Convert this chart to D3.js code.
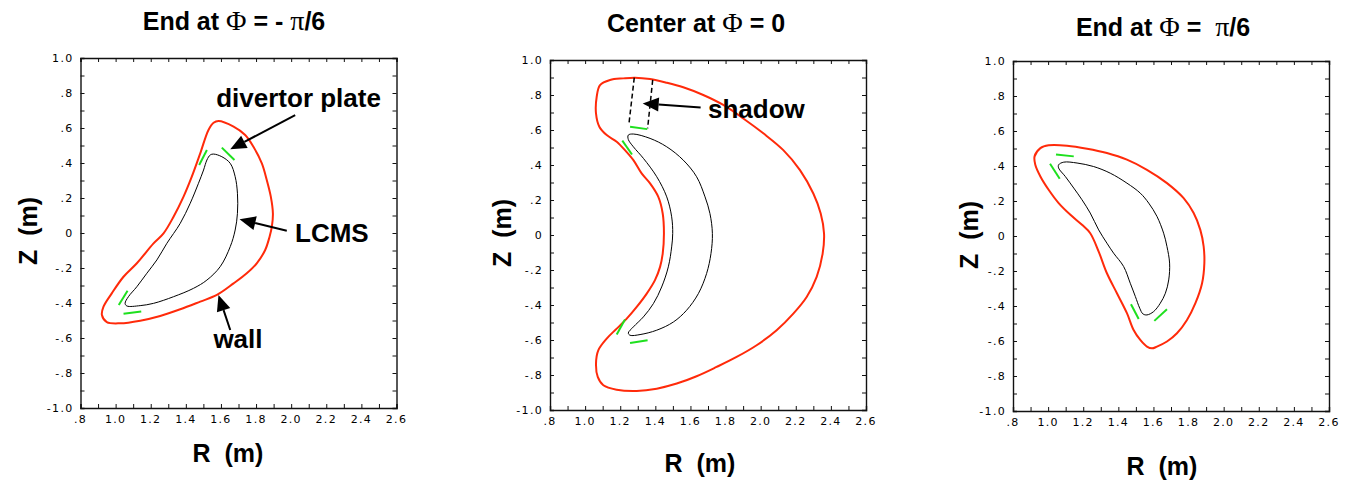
<!DOCTYPE html>
<html>
<head>
<meta charset="utf-8">
<script src="https://cdn.jsdelivr.net/npm/d3@7"></script>
<style>
  body { margin: 0; background: #fff; }
  svg { display: block; }
  .tick-label { font-family: "DejaVu Sans", sans-serif; font-size: 11px; letter-spacing: 1.3px; fill: #000; }
  .title, .axis-label, .note { font-family: "Liberation Sans", Arial, sans-serif; font-weight: bold; fill: #000; }
  .greek { font-family: "Liberation Serif", "Times New Roman", serif; font-weight: normal; }
</style>
</head>
<body>
<div id="chart"></div>
<script>
const W = 1351, H = 482;
const pw = 316, ph = 350;

const xTicks = [0.8, 1.0, 1.2, 1.4, 1.6, 1.8, 2.0, 2.2, 2.4, 2.6];
const xTickLabels = [".8", "1.0", "1.2", "1.4", "1.6", "1.8", "2.0", "2.2", "2.4", "2.6"];
const yTicks = [1.0, 0.8, 0.6, 0.4, 0.2, 0, -0.2, -0.4, -0.6, -0.8, -1.0];
const yTickLabels = ["1.0", ".8", ".6", ".4", ".2", "0", "-.2", "-.4", "-.6", "-.8", "-1.0"];

// wall (red) and LCMS (black) contours, [R, Z] in metres
const wall1 = [[1.586,0.640],[1.672,0.608],[1.738,0.560],[1.785,0.493],[1.833,0.398],[1.861,0.303],[1.884,0.208],[1.896,0.112],[1.890,0.036],[1.877,-0.021],[1.852,-0.097],[1.804,-0.173],[1.747,-0.230],[1.672,-0.288],[1.577,-0.354],[1.482,-0.392],[1.368,-0.436],[1.254,-0.474],[1.140,-0.501],[1.026,-0.516],[0.950,-0.509],[0.922,-0.469],[0.931,-0.421],[0.978,-0.345],[1.045,-0.250],[1.121,-0.173],[1.216,-0.059],[1.273,-0.002],[1.330,0.093],[1.387,0.208],[1.434,0.322],[1.482,0.455],[1.529,0.589],[1.558,0.630]];
const lcms1 = [[1.558,0.451],[1.605,0.436],[1.653,0.398],[1.681,0.322],[1.694,0.227],[1.694,0.112],[1.681,0.017],[1.653,-0.078],[1.596,-0.192],[1.520,-0.269],[1.444,-0.316],[1.330,-0.364],[1.216,-0.402],[1.140,-0.415],[1.064,-0.417],[1.054,-0.402],[1.073,-0.364],[1.121,-0.307],[1.178,-0.230],[1.235,-0.154],[1.292,-0.059],[1.368,0.055],[1.425,0.170],[1.472,0.284],[1.501,0.360],[1.520,0.417],[1.539,0.446]];
const plates1 = [[[1.476,0.389],[1.520,0.474]],[[1.605,0.488],[1.677,0.417]],[[1.018,-0.411],[1.068,-0.330]],[[1.045,-0.461],[1.146,-0.448]]];

const wall2 = [[1.085,0.857],[1.142,0.886],[1.218,0.895],[1.284,0.899],[1.370,0.891],[1.465,0.870],[1.559,0.844],[1.673,0.800],[1.787,0.743],[1.901,0.666],[2.015,0.581],[2.129,0.485],[2.224,0.371],[2.300,0.237],[2.342,0.123],[2.361,0.009],[2.353,-0.106],[2.319,-0.239],[2.262,-0.354],[2.186,-0.449],[2.091,-0.544],[1.977,-0.630],[1.863,-0.697],[1.749,-0.754],[1.635,-0.807],[1.522,-0.849],[1.408,-0.878],[1.294,-0.891],[1.180,-0.884],[1.104,-0.859],[1.072,-0.811],[1.062,-0.735],[1.075,-0.659],[1.123,-0.592],[1.180,-0.535],[1.237,-0.478],[1.294,-0.411],[1.351,-0.335],[1.398,-0.258],[1.427,-0.182],[1.442,-0.106],[1.449,0.009],[1.442,0.123],[1.417,0.218],[1.370,0.295],[1.322,0.352],[1.275,0.428],[1.227,0.485],[1.180,0.533],[1.123,0.571],[1.081,0.619],[1.062,0.695],[1.066,0.790]];
const lcms2 = [[1.246,0.571],[1.275,0.577],[1.370,0.552],[1.465,0.504],[1.559,0.428],[1.635,0.333],[1.683,0.218],[1.711,0.123],[1.725,0.009],[1.717,-0.106],[1.692,-0.220],[1.645,-0.335],[1.578,-0.430],[1.503,-0.497],[1.408,-0.544],[1.313,-0.569],[1.256,-0.573],[1.246,-0.560],[1.275,-0.525],[1.332,-0.468],[1.389,-0.392],[1.436,-0.297],[1.474,-0.182],[1.493,-0.068],[1.499,0.009],[1.493,0.104],[1.465,0.218],[1.408,0.333],[1.332,0.438],[1.275,0.504],[1.246,0.546]];
const plates2 = [[[1.256,0.619],[1.354,0.605]],[[1.212,0.539],[1.267,0.460]],[[1.227,-0.483],[1.180,-0.569]],[[1.256,-0.617],[1.356,-0.602]]];
const shadow2 = [[[1.280,0.899],[1.250,0.638]],[[1.385,0.886],[1.356,0.609]]];

const wall3 = [[0.956,0.502],[1.003,0.518],[1.108,0.516],[1.222,0.499],[1.335,0.474],[1.449,0.436],[1.563,0.378],[1.677,0.302],[1.772,0.216],[1.829,0.131],[1.867,0.035],[1.886,-0.060],[1.890,-0.155],[1.877,-0.270],[1.839,-0.384],[1.791,-0.480],[1.734,-0.556],[1.677,-0.603],[1.620,-0.632],[1.592,-0.642],[1.563,-0.632],[1.525,-0.594],[1.487,-0.537],[1.449,-0.441],[1.392,-0.327],[1.335,-0.213],[1.288,-0.089],[1.240,0.016],[1.193,0.064],[1.127,0.121],[1.060,0.188],[1.003,0.264],[0.956,0.340],[0.927,0.407],[0.923,0.455]];
const lcms3 = [[1.060,0.407],[1.089,0.422],[1.165,0.417],[1.259,0.397],[1.354,0.359],[1.449,0.302],[1.525,0.245],[1.573,0.188],[1.620,0.112],[1.658,0.016],[1.677,-0.060],[1.692,-0.155],[1.687,-0.251],[1.668,-0.327],[1.639,-0.384],[1.601,-0.432],[1.563,-0.451],[1.540,-0.445],[1.522,-0.413],[1.497,-0.346],[1.468,-0.270],[1.430,-0.174],[1.373,-0.098],[1.335,-0.041],[1.288,0.035],[1.240,0.131],[1.193,0.207],[1.146,0.274],[1.098,0.340],[1.060,0.388]];
const plates3 = [[[1.045,0.466],[1.146,0.455]],[[1.011,0.413],[1.066,0.327]],[[1.472,-0.390],[1.516,-0.474]],[[1.605,-0.485],[1.677,-0.419]]];

// text notes: label, anchor [R, Z], arrow tail [R, Z], arrow tip [R, Z]
const notes1 = [
  { text: "divertor plate", at: [1.573, 0.72], tail: [2.023, 0.674], tip: [1.653, 0.478] },
  { text: "LCMS", at: [2.022, -0.05], tail: [1.975, 0.013], tip: [1.706, 0.078] },
  { text: "wall", at: [1.557, -0.655], tail: [1.653, -0.554], tip: [1.586, -0.354] }
];
const notes2 = [
  { text: "shadow", at: [1.70, 0.667], tail: [1.658, 0.728], tip: [1.328, 0.752] }
];

const panels = [
  { left: 80.5, top: 58, title: ["End at ", "Φ", " = - ", "π", "/6"], titleX: 234, titleY: 30,
    labelX: 228, labelY: 462, zX: 37, zY: 231,
    wall: wall1, lcms: lcms1, plates: plates1, shadow: [], notes: notes1 },
  { left: 550, top: 60, title: ["Center at ", "Φ", " = 0"], titleX: 696, titleY: 32,
    labelX: 700, labelY: 472, zX: 511, zY: 233,
    wall: wall2, lcms: lcms2, plates: plates2, shadow: shadow2, notes: notes2 },
  { left: 1013, top: 61, title: ["End at ", "Φ", " =  ", "π", "/6"], titleX: 1163, titleY: 36,
    labelX: 1162, labelY: 475, zX: 978, zY: 235,
    wall: wall3, lcms: lcms3, plates: plates3, shadow: [], notes: [] }
];

const svg = d3.select("#chart").append("svg")
  .attr("width", W)
  .attr("height", H);

panels.forEach(p => {
  const x = d3.scaleLinear().domain([0.8, 2.6]).range([0, pw]);
  const y = d3.scaleLinear().domain([-1, 1]).range([ph, 0]);

  const g = svg.append("g").attr("transform", `translate(${p.left},${p.top})`);

  // frame with inward ticks on all four sides
  const minorX = d3.range(8, 27).map(d => d / 10);
  const minorY = d3.range(-10, 11).map(d => d / 10);
  g.append("g").call(d3.axisBottom(x).tickValues(minorX).tickSize(-4).tickFormat(""))
    .attr("transform", `translate(0,${ph})`);
  g.append("g").call(d3.axisTop(x).tickValues(minorX).tickSize(-4).tickFormat(""));
  g.append("g").call(d3.axisLeft(y).tickValues(minorY).tickSize(-4).tickFormat(""));
  g.append("g").call(d3.axisRight(y).tickValues(minorY).tickSize(-4).tickFormat(""))
    .attr("transform", `translate(${pw},0)`);
  g.selectAll(".domain").attr("stroke", "#111").attr("stroke-width", 1.4);
  g.selectAll(".tick line").attr("stroke", "#111").attr("stroke-width", 1);

  g.selectAll(".xlab").data(xTicks).join("text")
    .attr("class", "tick-label")
    .attr("x", d => x(d))
    .attr("y", ph + 15)
    .attr("text-anchor", "middle")
    .text((d, i) => xTickLabels[i]);

  g.selectAll(".ylab").data(yTicks).join("text")
    .attr("class", "tick-label")
    .attr("x", -7)
    .attr("y", d => y(d) + 4)
    .attr("text-anchor", "end")
    .text((d, i) => yTickLabels[i]);

  const closed = d3.line().x(d => x(d[0])).y(d => y(d[1])).curve(d3.curveCatmullRomClosed);
  const seg = d3.line().x(d => x(d[0])).y(d => y(d[1]));

  g.append("path").attr("d", closed(p.wall))
    .attr("fill", "none").attr("stroke", "#ff2a0a").attr("stroke-width", 2);
  g.append("path").attr("d", closed(p.lcms))
    .attr("fill", "none").attr("stroke", "#000").attr("stroke-width", 1);

  p.shadow.forEach(s => {
    g.append("path").attr("d", seg(s))
      .attr("fill", "none").attr("stroke", "#000").attr("stroke-width", 1.5)
      .attr("stroke-dasharray", "5,3");
  });
  p.plates.forEach(s => {
    g.append("path").attr("d", seg(s))
      .attr("fill", "none").attr("stroke", "#1ee01e").attr("stroke-width", 2);
  });

  p.notes.forEach(n => {
    const tx = x(n.tail[0]), ty = y(n.tail[1]);
    const hx = x(n.tip[0]), hy = y(n.tip[1]);
    const ang = Math.atan2(hy - ty, hx - tx);
    const len = 16, half = 7;
    const bx = hx - len * Math.cos(ang), by = hy - len * Math.sin(ang);
    g.append("line")
      .attr("x1", tx).attr("y1", ty).attr("x2", bx).attr("y2", by)
      .attr("stroke", "#000").attr("stroke-width", 2);
    g.append("path")
      .attr("d", `M${hx},${hy}L${bx - half * Math.sin(ang)},${by + half * Math.cos(ang)}L${bx + half * Math.sin(ang)},${by - half * Math.cos(ang)}Z`)
      .attr("fill", "#000");
    g.append("text")
      .attr("class", "note")
      .attr("x", x(n.at[0]))
      .attr("y", y(n.at[1]))
      .attr("font-size", 26)
      .text(n.text);
  });

  // title with serif Greek letters
  const t = svg.append("text")
    .attr("class", "title")
    .attr("x", p.titleX)
    .attr("y", p.titleY)
    .attr("text-anchor", "middle")
    .attr("font-size", 25)
    .style("white-space", "pre");
  p.title.forEach(s => {
    t.append("tspan")
      .attr("class", (s === "Φ" || s === "π") ? "greek" : null)
      .attr("font-size", (s === "Φ" || s === "π") ? 28 : null)
      .text(s);
  });

  svg.append("text")
    .attr("class", "axis-label")
    .attr("x", p.labelX)
    .attr("y", p.labelY)
    .attr("text-anchor", "middle")
    .attr("font-size", 25)
    .style("white-space", "pre")
    .text("R  (m)");

  svg.append("text")
    .attr("class", "axis-label")
    .attr("transform", `translate(${p.zX},${p.zY}) rotate(-90)`)
    .attr("text-anchor", "middle")
    .attr("font-size", 25)
    .style("white-space", "pre")
    .text("Z  (m)");
});
</script>
</body>
</html>
